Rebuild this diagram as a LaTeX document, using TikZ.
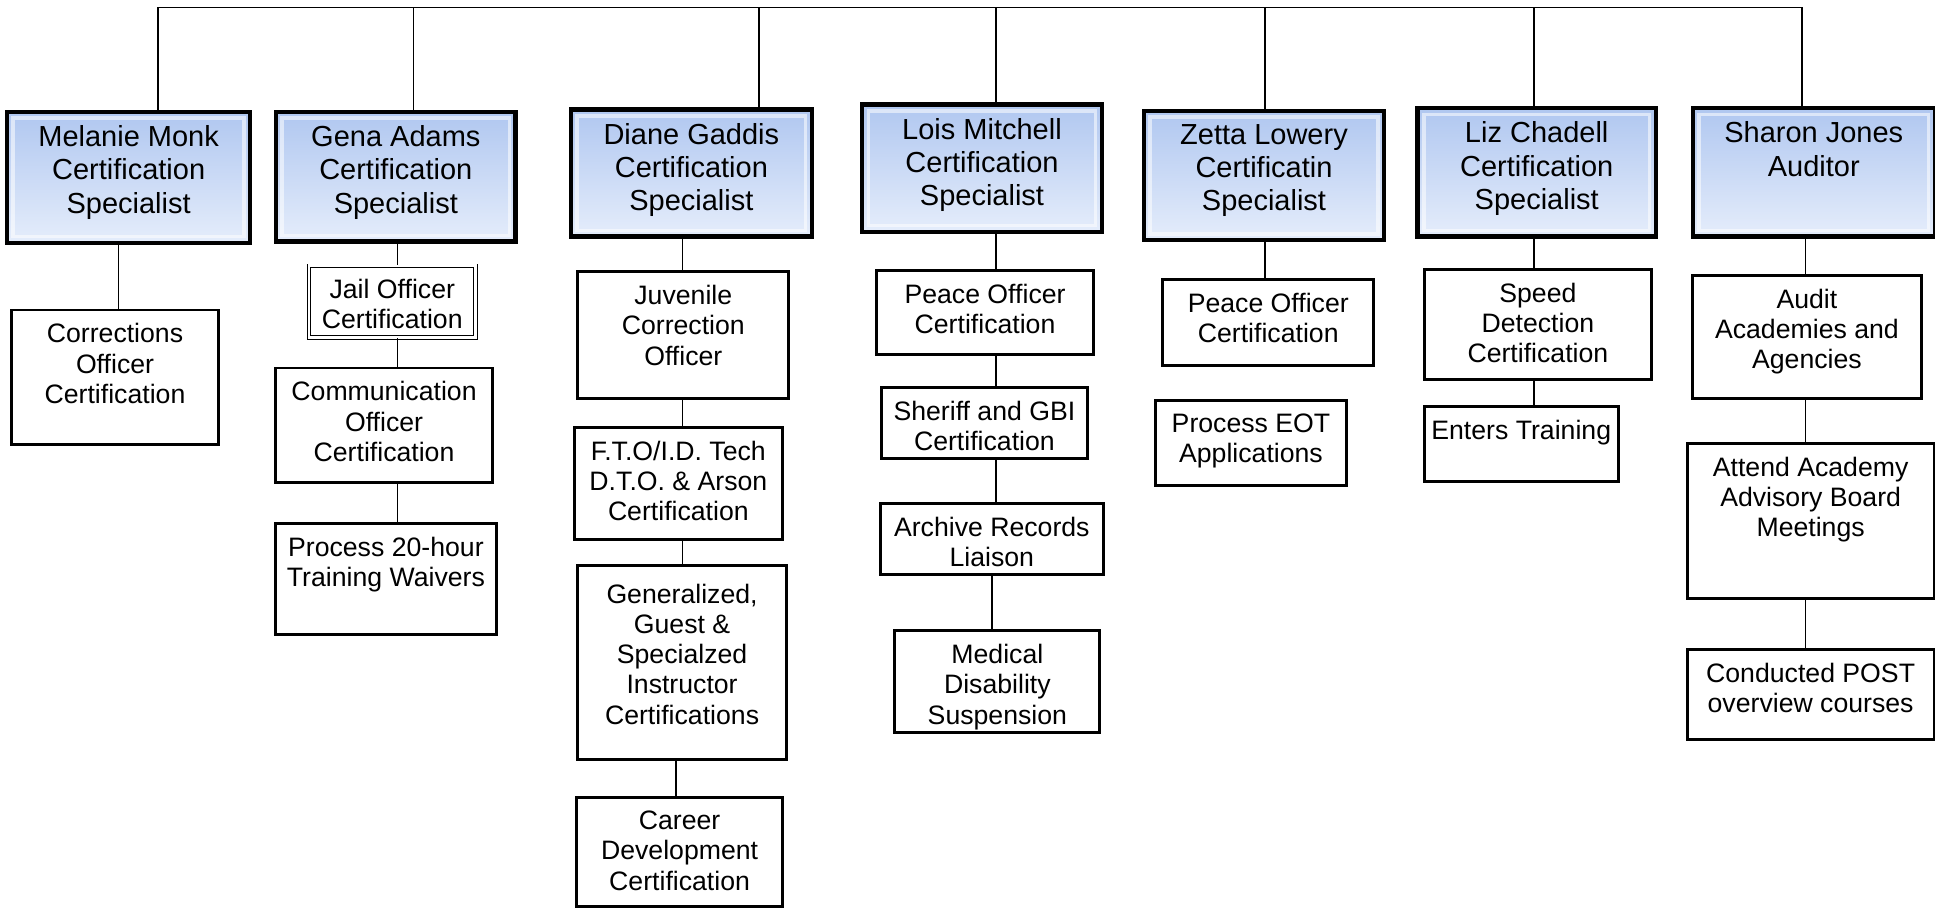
\documentclass[tikz,border=0pt]{standalone}
\usepackage{fontspec}
\setmainfont{Liberation Sans}
\definecolor{hdrtop}{RGB}{176,199,240}
\definecolor{hdrbot}{RGB}{229,237,251}
\newcommand\hdrfont{\fontsize{23.5}{27}\selectfont}
\newcommand\subfont{\fontsize{21.6}{24.5}\selectfont}
% fixed size cell, text from the top
\newcommand\cell[3]{\parbox[c][#2pt][t]{#1pt}{\centering\vspace*{11pt}#3}}
\tikzset{
  hdr/.style={draw=black, line width=3.5pt, top color=hdrtop, bottom color=hdrbot,
    inner sep=0pt, anchor=north west, font=\hdrfont,
    path picture={\draw[white, opacity=0.55, line width=3pt]
      ([shift={(5pt,-5pt)}]path picture bounding box.north west) rectangle
      ([shift={(-5pt,5pt)}]path picture bounding box.south east);}},
  sub/.style={draw=black, line width=2.4pt, inner sep=0pt, anchor=north west, font=\subfont},
  dbl/.style={draw=black, double, double distance=2.2pt, line width=0.7pt,
    inner sep=0pt, anchor=north west, font=\subfont},
  link/.style={line width=1.3pt}
}
\begin{document}
\begin{tikzpicture}[x=1pt, y=-1pt]
    \useasboundingbox (0,0) rectangle (1568,735);
    % top bar
    \coordinate (t1) at (128,6);
    \coordinate (t2) at (335,6);
    \coordinate (t3) at (615,6);
    \coordinate (t4) at (807,6);
    \coordinate (t5) at (1025,6);
    \coordinate (t6) at (1243,6);
    \coordinate (t7) at (1460,6);
    % column spines
    \coordinate (s1) at (96,0);
    \coordinate (s2) at (322,0);
    \coordinate (s3) at (553,0);
    \coordinate (s3b) at (548,0);
    \coordinate (s4) at (807,0);
    \coordinate (s4b) at (804,0);
    \coordinate (s5) at (1025,0);
    \coordinate (s6) at (1243,0);
    \coordinate (s7) at (1463,0);

    % heads
    \node[hdr] (h1) at (4,89)    {\cell{197}{106}{Melanie Monk\\Certification\\Specialist}};
    \node[hdr] (h2) at (222,89)  {\cell{194}{105}{Gena Adams\\Certification\\Specialist}};
    \node[hdr] (h3) at (461,87)  {\cell{195}{103}{Diane Gaddis\\Certification\\Specialist}};
    \node[hdr] (h4) at (697,83)  {\cell{194}{103}{Lois Mitchell\\Certification\\Specialist}};
    \node[hdr] (h5) at (925,88)  {\cell{195}{105}{Zetta Lowery\\Certificatin\\Specialist}};
    \node[hdr] (h6) at (1147,86) {\cell{193}{104}{Liz Chadell\\Certification\\Specialist}};
    \node[hdr] (h7) at (1370,86) {\cell{196}{104}{Sharon Jones\\Auditor}};

    % duties
    \node[sub] (corr) at (8,250)     {\cell{168}{109}{Corrections\\Officer\\Certification}};
    \node[dbl] (jail) at (250,215)   {\cell{135}{58}{Jail Officer\\Certification}};
    \node[sub] (comm) at (222,297)   {\cell{176}{93}{Communication\\Officer\\Certification}};
    \node[sub] (waiv) at (222,423)   {\cell{179}{90}{Process 20-hour\\Training Waivers}};
    \node[sub] (juv) at (467,219)    {\cell{171}{103}{Juvenile\\Correction\\Officer}};
    \node[sub] (fto) at (464,345)    {\cell{169}{91}{F.T.O/I.D. Tech\\D.T.O. \& Arson\\Certification}};
    \node[sub] (gen) at (467,457)    {\cell{169}{157}{\vspace*{4pt}Generalized,\\Guest \&\\Specialzed\\Instructor\\Certifications}};
    \node[sub] (career) at (466,645) {\cell{167}{88}{Career\\Development\\Certification}};
    \node[sub] (pea4) at (709,218)   {\cell{176}{68}{Peace Officer\\Certification}};
    \node[sub] (sher) at (713,313)   {\cell{167}{57}{Sheriff and GBI\\Certification}};
    \node[sub] (arch) at (712,407)   {\cell{181}{57}{Archive Records\\Liaison}};
    \node[sub] (med) at (724,510)    {\cell{166}{82}{Medical\\Disability\\Suspension}};
    \node[sub] (pea5) at (941,225)   {\cell{171}{70}{Peace Officer\\Certification}};
    \node[sub] (eot) at (935,323)    {\cell{155}{69}{Process EOT\\Applications}};
    \node[sub] (speed) at (1153,217) {\cell{184}{89}{Speed\\Detection\\Certification}};
    \node[sub] (ent) at (1153,328)   {\cell{157}{61}{Enters Training}};
    \node[sub] (aud) at (1370,222)   {\cell{186}{100}{Audit\\Academies and\\Agencies}};
    \node[sub] (att) at (1366,358)   {\cell{200}{126}{Attend Academy\\Advisory Board\\Meetings}};
    \node[sub] (post) at (1366,525)  {\cell{200}{73}{Conducted POST\\overview courses}};

    % links
    \draw[link] (t1) -- (t7);
    \foreach \i in {1,...,7}
      \draw[link] (t\i) -- (t\i |- h\i.north);
    \foreach \a/\b/\s in {h1/corr/s1, h2/jail/s2, jail/comm/s2, comm/waiv/s2,
        h3/juv/s3, juv/fto/s3, fto/gen/s3, gen/career/s3b,
        h4/pea4/s4, pea4/sher/s4, sher/arch/s4, arch/med/s4b,
        h5/pea5/s5, h6/speed/s6, speed/ent/s6,
        h7/aud/s7, aud/att/s7, att/post/s7}
      \draw[link] (\a.south -| \s) -- (\b.north -| \s);
\end{tikzpicture}
\end{document}
